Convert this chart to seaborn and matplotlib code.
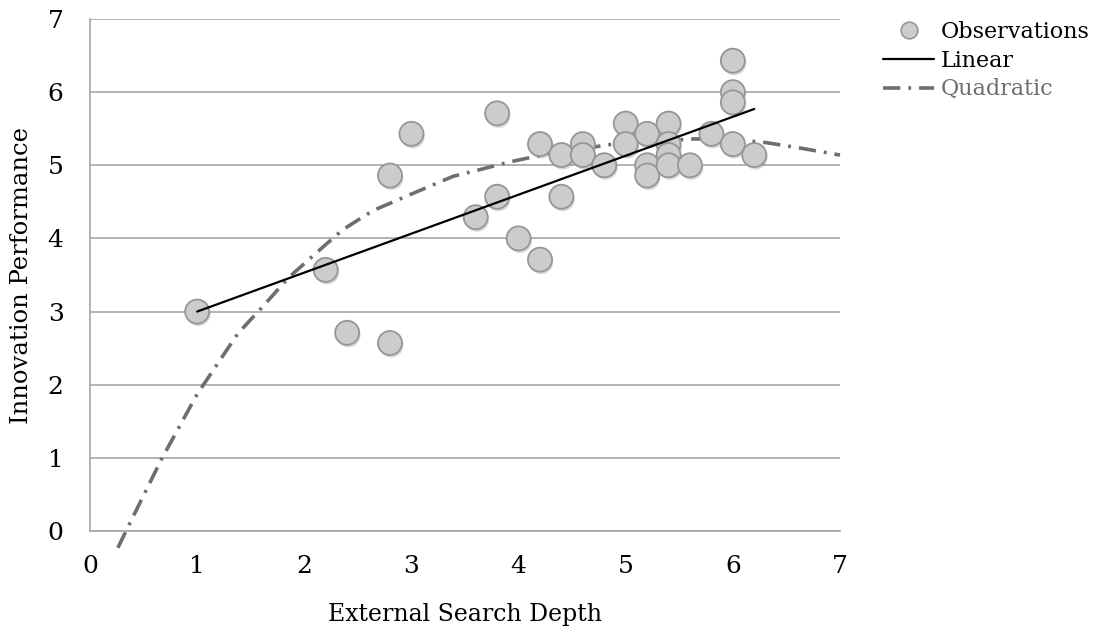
import matplotlib
matplotlib.use("Agg")
import matplotlib.pyplot as plt
import matplotlib.patheffects as pe
from matplotlib.lines import Line2D
import seaborn as sns
import pandas as pd

# --- data ---
obs_x = [1.0, 2.2, 2.4, 2.8, 2.8, 3.0, 3.6, 3.8, 3.8, 4.0, 4.2, 4.2, 4.4, 4.4,
         4.6, 4.6, 4.8, 5.0, 5.0, 5.2, 5.2, 5.2, 5.4, 5.4, 5.4, 5.4, 5.6, 5.8,
         6.0, 6.0, 6.0, 6.0, 6.2]
obs_y = [3.0, 3.57, 2.71, 2.57, 4.86, 5.43, 4.29, 4.57, 5.71, 4.0, 3.71, 5.29, 4.57, 5.14,
         5.29, 5.14, 5.0, 5.57, 5.29, 5.43, 5.0, 4.86, 5.57, 5.29, 5.14, 5.0, 5.0, 5.43,
         6.43, 6.0, 5.86, 5.29, 5.14]

linear_x = [1.0, 6.2]
linear_y = [3.0, 5.77]

quad_x = [0.26, 0.37, 0.67, 1.00, 1.38, 1.62, 1.85, 2.18, 2.36, 2.64, 2.99, 3.39,
          3.61, 3.93, 4.38, 4.60, 4.94, 5.63, 5.97, 6.31, 6.65, 7.00]
quad_y = [-0.23, 0.10, 0.99, 1.87, 2.70, 3.08, 3.46, 3.89, 4.12, 4.38, 4.60, 4.85,
          4.93, 5.05, 5.19, 5.23, 5.30, 5.36, 5.36, 5.31, 5.23, 5.14]

ticks = [0, 1, 2, 3, 4, 5, 6, 7]

obs = pd.DataFrame({"depth": obs_x, "perf": obs_y})
lin = pd.DataFrame({"depth": linear_x, "perf": linear_y})
quad = pd.DataFrame({"depth": quad_x, "perf": quad_y})

# --- style ---
sns.set_style("white")
plt.rcParams["font.family"] = ["DejaVu Serif"]
plt.rcParams["text.color"] = "black"
plt.rcParams["axes.labelcolor"] = "black"

grid_col = "#A6A6A6"
fill_col = "#CCCCCC"
edge_col = "#969696"
quad_col = "#6E6E6E"
qdash = (4.8, 2.2, 0.8, 2.2)

fig = plt.figure(figsize=(11.02, 6.29), dpi=100)
ax = fig.add_axes([90 / 1102, 1 - 531 / 629, 750 / 1102, 512 / 629])

# horizontal grid
for t in ticks:
    ax.axhline(t, color=grid_col, lw=1.2, zorder=0)

# quadratic curve (runs below the axis at the left end)
sns.lineplot(data=quad, x="depth", y="perf", ax=ax, color=quad_col, lw=2.6,
             sort=False, estimator=None, zorder=2)
qline = ax.lines[-1]
qline.set_dashes(qdash)
qline.set_clip_on(False)

sns.scatterplot(data=obs, x="depth", y="perf", ax=ax, s=300, color=fill_col,
                edgecolor=edge_col, linewidth=1.3, zorder=3,
                path_effects=[pe.SimplePatchShadow(offset=(1.0, -1.8), shadow_rgbFace="#777777", alpha=0.28),
                              pe.Normal()])

sns.lineplot(data=lin, x="depth", y="perf", ax=ax, color="black", lw=1.6,
             sort=False, estimator=None, zorder=4)

ax.set_xlim(0, 7)
ax.set_ylim(0, 7)
ax.set_xticks(ticks)
ax.set_yticks(ticks)
ax.tick_params(axis="both", direction="out", length=6, width=1.2, color=grid_col,
               labelsize=18, labelcolor="black")
ax.tick_params(axis="y", pad=13)
ax.tick_params(axis="x", pad=11)

sns.despine(ax=ax, top=True, right=True)
for side in ["left", "bottom"]:
    ax.spines[side].set_color(grid_col)
    ax.spines[side].set_linewidth(1.2)

ax.set_xlabel("External Search Depth", fontsize=17)
ax.set_ylabel("Innovation Performance", fontsize=17.5)
ax.xaxis.label.set_va("center")
ax.yaxis.label.set_va("center")
ax.xaxis.set_label_coords(0.5, (531 - 614) / 512)
ax.yaxis.set_label_coords((22 - 90) / 750, 0.5)

# legend
handles = [
    Line2D([], [], ls="none", marker="o", markersize=12, markerfacecolor=fill_col,
           markeredgecolor=edge_col, markeredgewidth=1.2),
    Line2D([], [], color="black", lw=1.6),
    Line2D([], [], color=quad_col, lw=2.6, dashes=qdash),
]
leg = ax.legend(handles, ["Observations", "Linear", "Quadratic"],
                loc="upper left", bbox_to_anchor=((883 - 90) / 750, 1 - 2 / 512),
                frameon=False, fontsize=16, handlelength=2.3, handletextpad=0.3,
                labelspacing=0.3, borderpad=0, borderaxespad=0)
leg.get_texts()[2].set_color(quad_col)

fig.savefig("out.png", dpi=100)
